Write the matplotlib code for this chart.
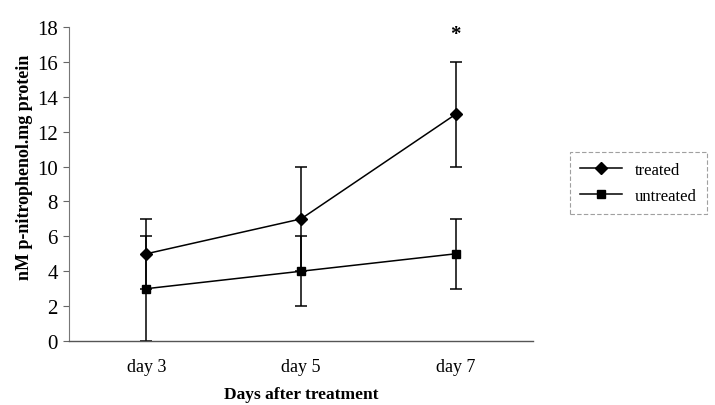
import matplotlib
matplotlib.use("Agg")
import matplotlib.pyplot as plt
import numpy as np

# Data
days        = ['day 3', 'day 5', 'day 7']
treated     = [5, 7, 13]
treated_err = [2, 3, 3]
untreat     = [3, 4, 5]
untreat_err = [3, 2, 2]

plt.rcParams['font.family'] = 'Liberation Serif'

fig = plt.figure(figsize=(7.15, 4.06), dpi=100)
ax = fig.add_axes([0.0965, 0.1576, 0.649, 0.7734])

x = np.arange(len(days))
# error bars first, then lines+markers (so legend shows plain handles)
ax.errorbar(x, treated, yerr=treated_err, fmt='none', ecolor='black',
            elinewidth=1.1, capsize=4.3, capthick=1.1)
ax.errorbar(x, untreat, yerr=untreat_err, fmt='none', ecolor='black',
            elinewidth=1.1, capsize=4.3, capthick=1.1)
ax.plot(x, treated, color='black', marker='D', markersize=6, linewidth=1.1, label='treated')
ax.plot(x, untreat, color='black', marker='s', markersize=6, linewidth=1.1, label='untreated')

ax.text(2, 17.6, '*', ha='center', va='center', fontsize=15, fontweight='bold')

ax.set_xlim(-0.5, 2.5)
ax.set_ylim(0, 18)
ax.set_yticks(np.arange(0, 19, 2))
ax.set_xticks(x)
ax.set_xticklabels(days)
ax.tick_params(axis='y', labelsize=15, length=4, width=0.8, color='#666666', pad=4)
ax.tick_params(axis='x', labelsize=13, length=0, pad=12)
ax.spines['top'].set_visible(False)
ax.spines['right'].set_visible(False)
ax.spines['left'].set_color('#777777')
ax.spines['left'].set_linewidth(0.8)
ax.spines['bottom'].set_color('#555555')
ax.spines['bottom'].set_linewidth(1.0)

ax.set_ylabel('nM p-nitrophenol.mg protein', fontsize=13, fontweight='bold')
ax.yaxis.set_label_coords(-0.077, 0.557)
ax.set_xlabel('Days after treatment', fontsize=12.5, fontweight='bold', labelpad=8)

leg = fig.legend(loc='center', bbox_to_anchor=(0.893, 0.548), fontsize=12,
                 frameon=True, fancybox=False, handlelength=2.5, borderpad=0.6,
                 labelspacing=0.6)
leg.get_frame().set_edgecolor('#888888')
leg.get_frame().set_linestyle((0, (4, 2)))
leg.get_frame().set_linewidth(0.8)

plt.savefig('out.png', dpi=100)
